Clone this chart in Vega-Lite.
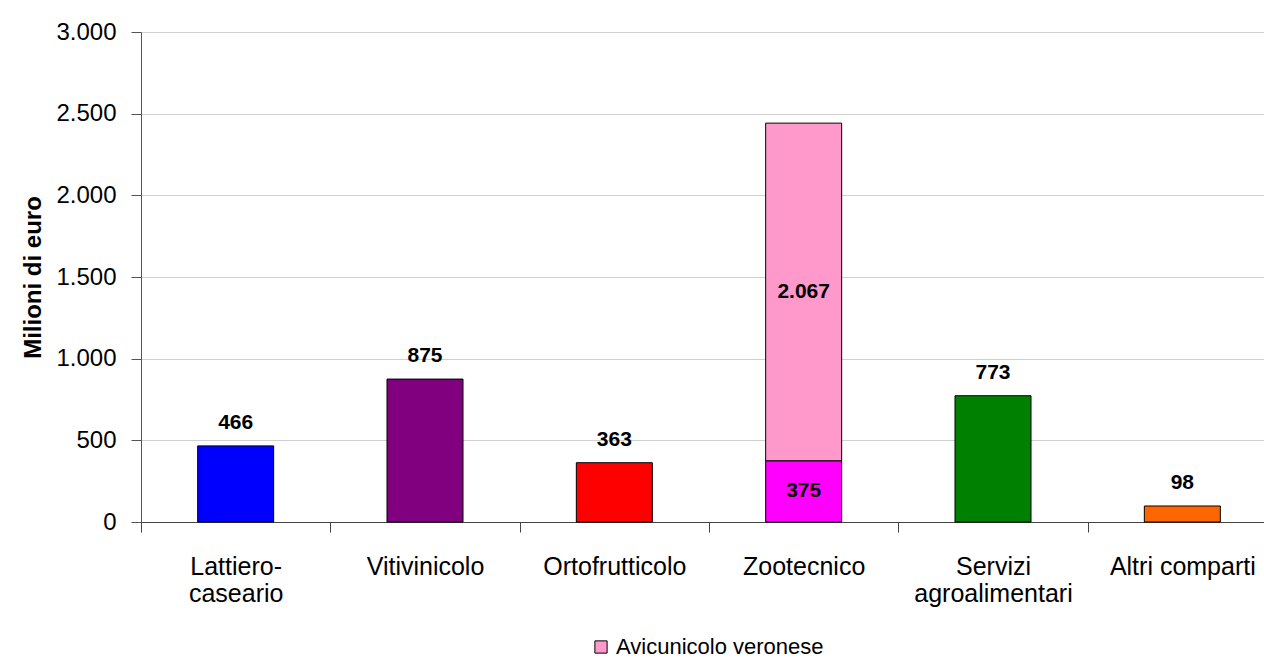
{
  "$schema": "https://vega.github.io/schema/vega-lite/v6.json",
  "width": 1136,
  "height": 490,
  "autosize": {"type": "none"},
  "padding": {"left": 141, "top": 32, "right": -13, "bottom": 142},
  "background": "white",
  "config": {
    "font": "Liberation Sans",
    "locale": {"number": {"decimal": ",", "thousands": ".", "grouping": [3], "currency": ["€", ""]}},
    "view": {"stroke": null}
  },
  "data": {
    "values": [
      {"comparto": "Lattiero-caseario", "serie": "Lattiero-caseario", "valore": 466},
      {"comparto": "Vitivinicolo", "serie": "Vitivinicolo", "valore": 875},
      {"comparto": "Ortofrutticolo", "serie": "Ortofrutticolo", "valore": 363},
      {"comparto": "Zootecnico", "serie": "Zootecnico", "valore": 375},
      {"comparto": "Zootecnico", "serie": "Avicunicolo veronese", "valore": 2067},
      {"comparto": "Servizi agroalimentari", "serie": "Servizi agroalimentari", "valore": 773},
      {"comparto": "Altri comparti", "serie": "Altri comparti", "valore": 98}
    ]
  },
  "encoding": {
    "x": {
      "field": "comparto",
      "type": "nominal",
      "sort": null,
      "scale": {"paddingInner": 0, "paddingOuter": 0},
      "axis": {
        "title": null,
        "labelAngle": 0,
        "labelFontSize": 25,
        "labelColor": "black",
        "labelPadding": 22,
        "labelLineHeight": 27,
        "labelBaseline": "top",
        "labelOverlap": false,
        "labelBound": false,
        "labelLimit": 400,
        "domainColor": "#444444",
        "tickColor": "#444444",
        "tickSize": 10,
        "tickBand": "extent",
        "grid": false,
        "labelExpr": "datum.label == 'Lattiero-caseario' ? ['Lattiero-', 'caseario'] : datum.label == 'Servizi agroalimentari' ? ['Servizi', 'agroalimentari'] : datum.label"
      }
    }
  },
  "layer": [
    {
      "mark": {"type": "bar", "size": 76, "stroke": "black", "strokeWidth": 1},
      "encoding": {
        "y": {
          "field": "valore",
          "type": "quantitative",
          "stack": "zero",
          "scale": {"domain": [0, 3000], "nice": false},
          "axis": {
            "title": "Milioni di euro",
            "titleFontSize": 24,
            "titleFontWeight": "bold",
            "titleColor": "black",
            "titlePadding": 10,
            "values": [0, 500, 1000, 1500, 2000, 2500, 3000],
            "format": ",d",
            "labelFontSize": 24,
            "labelColor": "black",
            "labelPadding": 15,
            "tickSize": 10,
            "tickColor": "#555555",
            "domainColor": "#555555",
            "grid": true,
            "gridColor": "#d0d0d0"
          }
        },
        "order": {"field": "serie", "sort": "descending"},
        "color": {
          "field": "serie",
          "type": "nominal",
          "scale": {
            "domain": ["Lattiero-caseario", "Vitivinicolo", "Ortofrutticolo", "Zootecnico", "Avicunicolo veronese", "Servizi agroalimentari", "Altri comparti"],
            "range": ["#0000FF", "#800080", "#FF0000", "#FF00FF", "#FF99CC", "#008000", "#FF6600"]
          },
          "legend": {
            "values": ["Avicunicolo veronese"],
            "title": null,
            "orient": "none",
            "legendX": 449,
            "legendY": 604,
            "symbolType": "square",
            "symbolSize": 150,
            "symbolStrokeColor": "black",
            "symbolStrokeWidth": 1,
            "labelFontSize": 22,
            "labelColor": "black",
            "labelLimit": 400
          }
        }
      }
    },
    {
      "transform": [{"filter": "datum.comparto != 'Zootecnico'"}],
      "mark": {"type": "text", "fontSize": 21, "fontWeight": "bold", "baseline": "bottom", "dy": -13, "color": "black"},
      "encoding": {
        "y": {"field": "valore", "type": "quantitative"},
        "text": {"field": "valore", "type": "quantitative", "format": ",d"}
      }
    },
    {
      "transform": [
        {"filter": "datum.comparto == 'Zootecnico'"},
        {"stack": "valore", "groupby": ["comparto"], "sort": [{"field": "serie", "order": "descending"}], "as": ["v0", "v1"]},
        {"calculate": "(datum.v0 + datum.v1) / 2", "as": "mid"}
      ],
      "mark": {"type": "text", "fontSize": 21, "fontWeight": "bold", "baseline": "middle", "color": "black"},
      "encoding": {
        "y": {"field": "mid", "type": "quantitative"},
        "text": {"field": "valore", "type": "quantitative", "format": ",d"}
      }
    }
  ]
}
